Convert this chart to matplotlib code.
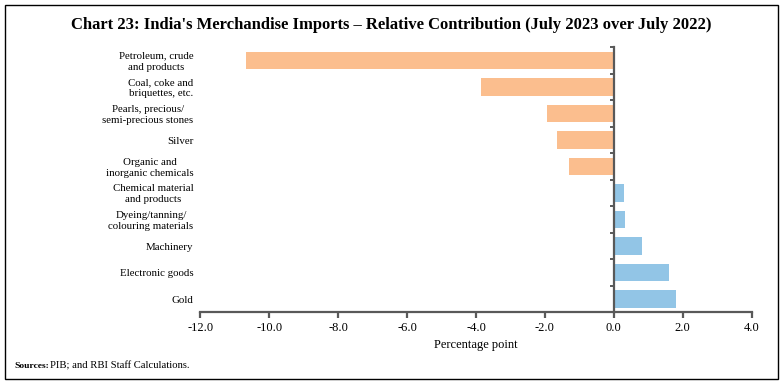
import matplotlib
matplotlib.use("Agg")
import matplotlib.pyplot as plt
from matplotlib.patches import Rectangle
import numpy as np

plt.rcParams["font.family"] = ["Liberation Serif", "DejaVu Serif"]

categories = [
    "Petroleum, crude\nand products",
    "Coal, coke and\nbriquettes, etc.",
    "Pearls, precious/\nsemi-precious stones",
    "Silver",
    "Organic and\ninorganic chemicals",
    "Chemical material\nand products",
    "Dyeing/tanning/\ncolouring materials",
    "Machinery",
    "Electronic goods",
    "Gold",
]
values = [-10.68, -3.87, -1.94, -1.65, -1.30, 0.29, 0.31, 0.83, 1.59, 1.80]
xticks = [-12.0, -10.0, -8.0, -6.0, -4.0, -2.0, 0.0, 2.0, 4.0]

neg_color = "#FBBE8E"
pos_color = "#92C5E6"
axis_color = "#595959"

fig = plt.figure(figsize=(7.83, 3.84), dpi=100)
ax = fig.add_axes([0.256, 0.187, 0.704, 0.69])

y = np.arange(len(categories))
colors = [neg_color if v < 0 else pos_color for v in values]
ax.barh(y, values, height=0.65, color=colors, zorder=2)

ax.set_ylim(len(categories) - 0.5, -0.5)
ax.set_xlim(-12, 4)

# y axis drawn at zero
ax.spines["left"].set_position(("data", 0))
ax.spines["left"].set_color(axis_color)
ax.spines["left"].set_linewidth(1.6)
ax.spines["bottom"].set_color(axis_color)
ax.spines["bottom"].set_linewidth(1.6)
ax.spines["top"].set_visible(False)
ax.spines["right"].set_visible(False)
ax.spines["left"].set_zorder(3)

ax.set_xticks(xticks)
ax.set_xticklabels([f"{t:.1f}" for t in xticks], fontsize=9)
ax.tick_params(axis="x", direction="out", length=4, width=1.6, color=axis_color, pad=3)

# category labels placed at the left of the plot area
ax.set_yticks([])
ax.set_yticks(np.arange(len(categories) + 1) - 0.5, minor=True)
ax.tick_params(axis="y", which="minor", direction="out", length=3, width=1.4, color=axis_color)
for yi, label in zip(y, categories):
    ax.text(-12.2, yi + 0.05, label, ha="right", va="center", multialignment="center",
            fontsize=7.8, linespacing=1.3, transform=ax.transData)

ax.set_xlabel("Percentage point", fontsize=9, labelpad=4)

fig.suptitle("Chart 23: India's Merchandise Imports \u2013 Relative Contribution (July 2023 over July 2022)",
             fontsize=12, fontweight="bold", y=0.955)

fig.text(0.019, 0.048, "Sources:", fontsize=6.8, fontweight="bold", ha="left", va="center")
fig.text(0.064, 0.048, "PIB; and RBI Staff Calculations.", fontsize=7.7, ha="left", va="center")

fig.patches.append(Rectangle((0.006, 0.013), 0.988, 0.974, transform=fig.transFigure,
                             fill=False, edgecolor="black", linewidth=1.0))

fig.savefig("out.png", dpi=100)
